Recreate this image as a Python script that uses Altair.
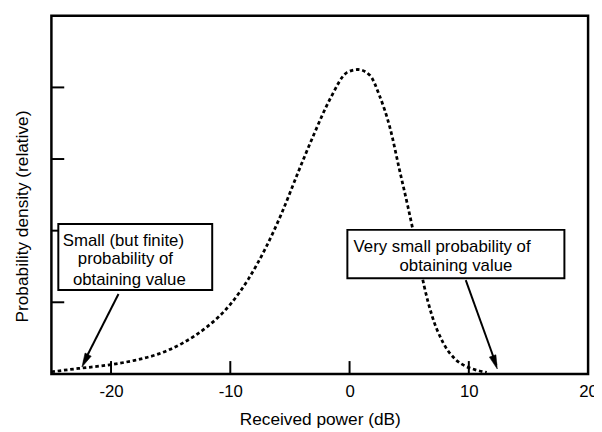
import altair as alt
import pandas as pd

# Curve (received power in dB vs relative probability density)
power_db = [-25, -22.5, -20, -18, -16, -14, -12, -10, -8.5, -7, -5.7, -4.3, -3, -1.6,
            -0.2, 0.7, 1.7, 2.5, 3.4, 4.2, 4.9, 5.6, 6.25, 6.9, 7.8, 8.9, 9.7, 10.5, 11.5]
density = [0.03, 0.08, 0.13, 0.19, 0.28, 0.43, 0.65, 0.97, 1.32, 1.77, 2.24, 2.82, 3.34, 3.85,
           4.21, 4.25, 4.17, 3.89, 3.43, 2.84, 2.33, 1.78, 1.23, 0.82, 0.45, 0.20, 0.11, 0.06, 0.02]

x_label_values = [-20, -10, 0, 10, 20]
x_tick_values = [-20, -10, 0, 10]
y_tick_values = [1, 2, 3, 4]

# annotation text lines
note_lines = ["Small (but finite)", "probability of", "obtaining value",
              "Very small probability of", "obtaining value"]

FONT = "Liberation Sans"
W, H = 544, 363

xs = alt.Scale(domain=[-25, 20], nice=False, zero=False)
ys = alt.Scale(domain=[0, 5], nice=False, zero=True)

xaxis = alt.Axis(
    values=x_label_values, ticks=False, domain=False, grid=False,
    labelFont=FONT, labelFontSize=17, labelColor="black", labelPadding=10,
    labelExpr="'' + datum.value", labelFlush=False, labelOverlap=False,
    title="Received power (dB)", titleFont=FONT, titleFontSize=17.5,
    titleFontWeight="normal", titleColor="black", titleY=46, titleBaseline="middle")
yaxis = alt.Axis(
    ticks=False, labels=False, domain=False, grid=False,
    title="Probability density (relative)", titleFont=FONT, titleFontSize=17.5,
    titleFontWeight="normal", titleColor="black", titleAngle=-90,
    titleX=-29, titleY=203, titleAlign="center", titleBaseline="middle")

curve_df = pd.DataFrame({"power": power_db, "density": density})
one = pd.DataFrame({"k": [0]})

curve = alt.Chart(curve_df).mark_line(
    color="black", strokeWidth=2.8, strokeDash=[3.6, 2.8], interpolate="monotone"
).encode(
    x=alt.X("power:Q", scale=xs, axis=xaxis, title="Received power (dB)"),
    y=alt.Y("density:Q", scale=ys, axis=yaxis, title="Probability density (relative)"),
)

xticks = alt.Chart(pd.DataFrame({"power": x_tick_values})).mark_rule(
    color="black", strokeWidth=2
).encode(x=alt.X("power:Q", scale=xs, axis=xaxis, title="Received power (dB)"),
         y=alt.value(H), y2=alt.value(H - 13))

yticks = alt.Chart(pd.DataFrame({"density": y_tick_values})).mark_rule(
    color="black", strokeWidth=2
).encode(y=alt.Y("density:Q", scale=ys, axis=yaxis, title="Probability density (relative)"),
         x=alt.value(0), x2=alt.value(13))


def box(x1, x2, y1, y2):
    return alt.Chart(one).mark_rect(
        fill="white", stroke="black", strokeWidth=2
    ).encode(x=alt.value(x1), x2=alt.value(x2), y=alt.value(y1), y2=alt.value(y2))


def label(txt, x, y):
    return alt.Chart(one).mark_text(
        font=FONT, fontSize=17, color="black", align="center", baseline="middle"
    ).encode(x=alt.value(x), y=alt.value(y), text=alt.value(txt))


def shaft(x1, y1, x2, y2):
    return alt.Chart(one).mark_rule(color="black", strokeWidth=2).encode(
        x=alt.value(x1), y=alt.value(y1), x2=alt.value(x2), y2=alt.value(y2))


def head(x, y, angle):
    return alt.Chart(one).mark_point(
        shape="M0,-1L0.5,1L-0.5,1Z", filled=True, fill="black", stroke="black",
        strokeWidth=0.5, opacity=1, size=196, angle=angle
    ).encode(x=alt.value(x), y=alt.value(y))


layers = [
    curve, yticks, xticks,
    box(7, 163, 211, 278),
    label(note_lines[0], 73, 228),
    label(note_lines[1], 75, 247),
    label(note_lines[2], 79, 268),
    shaft(68, 282, 33, 351),
    head(34.1, 349.7, 206.5),
    box(300, 520, 217, 266),
    label(note_lines[3], 396, 234),
    label(note_lines[4], 410, 254),
    shaft(420, 268, 451, 354),
    head(449.6, 351.4, 160.4),
]

chart = alt.layer(*layers).properties(
    width=W, height=H,
    padding={"left": 44, "top": 5, "right": 6, "bottom": 56},
    autosize=alt.AutoSizeParams(type="none"),
).configure(background="white").configure_view(stroke="black", strokeWidth=2.5)

chart.save("out.html", embed_options={"renderer": "svg", "actions": False})
